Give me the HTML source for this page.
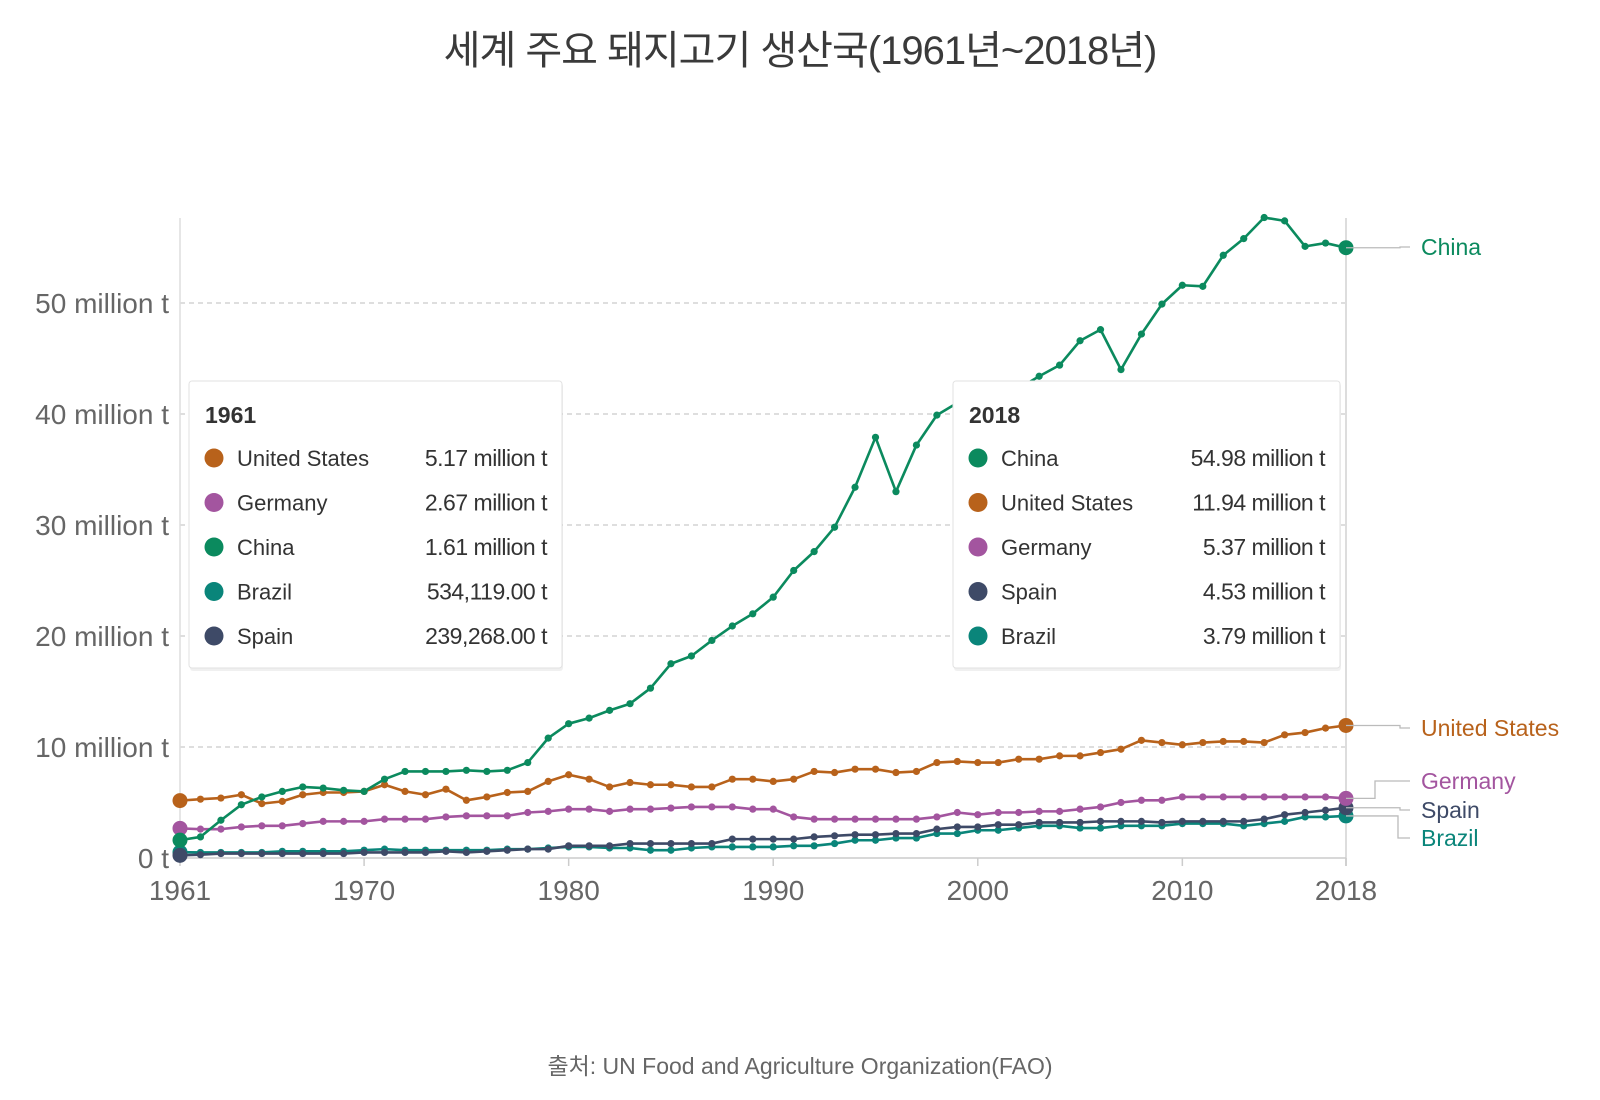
<!DOCTYPE html>
<html><head><meta charset="utf-8">
<style>
body{margin:0;background:#fff;}
svg{display:block;font-family:"Liberation Sans","Noto Sans CJK KR",sans-serif;}
</style></head>
<body>
<svg id="chart" width="1600" height="1100" viewBox="0 0 1600 1100">
<text x="800" y="64" text-anchor="middle" font-size="40" fill="#3a3a3a" letter-spacing="-1">세계 주요 돼지고기 생산국(1961년~2018년)</text>
<text x="800" y="1074" text-anchor="middle" font-size="23" fill="#666" letter-spacing="0">출처: UN Food and Agriculture Organization(FAO)</text>
<g id="grid"></g><g id="axes"></g><g id="series"></g><g id="labels"></g><g id="tips"></g>
</svg>
<script>
const years = [];
for (let y = 1961; y <= 2018; y++) years.push(y);
const seriesNames = ["China","United States","Germany","Spain","Brazil"];
const china = [1.61,1.9,3.4,4.8,5.5,6.0,6.4,6.3,6.1,6.0,7.1,7.8,7.8,7.8,7.9,7.8,7.9,8.6,10.8,12.1,12.6,13.3,13.9,15.3,17.5,18.2,19.6,20.9,22.0,23.5,25.9,27.6,29.8,33.4,37.9,33.0,37.2,39.9,41.0,41.2,41.8,42.3,43.4,44.4,46.6,47.6,44.0,47.2,49.9,51.6,51.5,54.3,55.8,57.7,57.4,55.1,55.4,54.98];
const usa = [5.17,5.3,5.4,5.7,4.9,5.1,5.7,5.9,5.9,6.0,6.6,6.0,5.7,6.2,5.2,5.5,5.9,6.0,6.9,7.5,7.1,6.4,6.8,6.6,6.6,6.4,6.4,7.1,7.1,6.9,7.1,7.8,7.7,8.0,8.0,7.7,7.8,8.6,8.7,8.6,8.6,8.9,8.9,9.2,9.2,9.5,9.8,10.6,10.4,10.2,10.4,10.5,10.5,10.4,11.1,11.3,11.7,11.94];
const germany = [2.67,2.6,2.6,2.8,2.9,2.9,3.1,3.3,3.3,3.3,3.5,3.5,3.5,3.7,3.8,3.8,3.8,4.1,4.2,4.4,4.4,4.2,4.4,4.4,4.5,4.6,4.6,4.6,4.4,4.4,3.7,3.5,3.5,3.5,3.5,3.5,3.5,3.7,4.1,3.9,4.1,4.1,4.2,4.2,4.4,4.6,5.0,5.2,5.2,5.5,5.5,5.5,5.5,5.5,5.5,5.5,5.5,5.37];
const spain = [0.24,0.3,0.4,0.4,0.4,0.4,0.4,0.4,0.4,0.5,0.5,0.5,0.5,0.6,0.5,0.6,0.7,0.8,0.8,1.1,1.1,1.1,1.3,1.3,1.3,1.3,1.3,1.7,1.7,1.7,1.7,1.9,2.0,2.1,2.1,2.2,2.2,2.6,2.8,2.8,3.0,3.0,3.2,3.2,3.2,3.3,3.3,3.3,3.2,3.3,3.3,3.3,3.3,3.5,3.9,4.1,4.3,4.53];
const brazil = [0.53,0.5,0.5,0.5,0.5,0.6,0.6,0.6,0.6,0.7,0.8,0.7,0.7,0.7,0.7,0.7,0.8,0.8,0.9,1.0,1.0,0.9,0.9,0.7,0.7,0.9,1.0,1.0,1.0,1.0,1.1,1.1,1.3,1.6,1.6,1.8,1.8,2.2,2.2,2.5,2.5,2.7,2.9,2.9,2.7,2.7,2.9,2.9,2.9,3.1,3.1,3.1,2.9,3.1,3.3,3.7,3.7,3.79];
const yTicks = [0,10,20,30,40,50];
const yTickLabels = ["0 t","10 million t","20 million t","30 million t","40 million t","50 million t"];
const xTicks = [1961,1970,1980,1990,2000,2010,2018];
const tip1961Names = ["United States","Germany","China","Brazil","Spain"];
const tip1961Values = ["5.17 million t","2.67 million t","1.61 million t","534,119.00 t","239,268.00 t"];
const tip2018Names = ["China","United States","Germany","Spain","Brazil"];
const tip2018Values = ["54.98 million t","11.94 million t","5.37 million t","4.53 million t","3.79 million t"];

const colors = {"China":"#0b8a5e","United States":"#b8621b","Germany":"#a3559f","Spain":"#3e4a67","Brazil":"#0a857a"};
const dataBy = {"China":china,"United States":usa,"Germany":germany,"Spain":spain,"Brazil":brazil};
const X0=180, X1=1346, Y0=858, YPER=11.1;
const x = yr => X0 + (yr-1961)*(X1-X0)/(2018-1961);
const y = v => Y0 - v*YPER;
const NS="http://www.w3.org/2000/svg";
function mk(tag, attrs, parent){const e=document.createElementNS(NS,tag);for(const k in attrs)e.setAttribute(k,attrs[k]);parent.appendChild(e);return e;}

const grid=document.getElementById('grid'), axes=document.getElementById('axes');
yTicks.forEach((t,i)=>{
  if(t>0){const g=mk('line',{x1:X0,x2:X1,y1:y(t),y2:y(t),stroke:'#d4d4d4','stroke-width':1.5,'stroke-dasharray':'5,4'},grid);
  
  }
  const tl=mk('text',{x:169,y:y(t)+10,'text-anchor':'end','font-size':28,fill:'#666'},axes);
  tl.textContent=yTickLabels[i];
  
  
});
let a=mk('line',{x1:X0,x2:X0,y1:218,y2:Y0,stroke:'#ddd','stroke-width':1.5},axes);


a=mk('line',{x1:X1,x2:X1,y1:218,y2:Y0+8,stroke:'#ddd','stroke-width':2},axes);


a=mk('line',{x1:X0,x2:X1,y1:Y0,y2:Y0,stroke:'#ccc','stroke-width':1.5},axes);


xTicks.forEach(t=>{
  const tk=mk('line',{x1:x(t),x2:x(t),y1:Y0,y2:Y0+8,stroke:'#ccc','stroke-width':1.5},axes);
  
  
  const tl=mk('text',{x:x(t),y:900,'text-anchor':'middle','font-size':28,fill:'#666'},axes);
  tl.textContent=t;
  
  
});

const series=document.getElementById('series');
["Brazil","Spain","Germany","United States","China"].forEach(n=>{
  const d=dataBy[n], c=colors[n];
  const g=mk('g',{},series);
  
  
  mk('polyline',{points:d.map((v,i)=>x(years[i])+','+y(v)).join(' '),fill:'none',stroke:c,'stroke-width':2.6,'stroke-linejoin':'round'},g);
  d.forEach((v,i)=>{
    const big=(i===0||i===d.length-1);
    const p=mk('circle',{cx:x(years[i]),cy:y(v),r:big?7.5:3.6,fill:c},g);
    
    
  });
});

const labels=document.getElementById('labels');
const labelY={"China":247,"United States":728,"Germany":781,"Spain":810,"Brazil":838};
seriesNames.forEach(n=>{
  const d=dataBy[n], py=y(d[d.length-1]), ly=labelY[n];
  const mid = n==="Germany"?1375:(n==="Brazil"?1398:1400);
  const l=mk('polyline',{points:`${X1},${py} ${mid},${py} ${mid},${ly} 1410,${ly}`,fill:'none',stroke:'#bbb','stroke-width':1.3},labels);
  
  
  const t=mk('text',{x:1421,y:ly+8,'font-size':23,fill:colors[n]},labels);
  t.textContent=n;
  
  
});

const tips=document.getElementById('tips');
function tooltip(x0,w,title,names,vals,name){
  const g=mk('g',{},tips);
  
  
  mk('rect',{x:x0+1,y:383,width:w,height:288,rx:3,fill:'#000',opacity:0.06},g);
  mk('rect',{x:x0,y:381,width:w,height:287,rx:3,fill:'#fff',stroke:'#e2e2e2','stroke-width':1},g);
  const h=mk('text',{x:x0+16,y:423,'font-size':23,'font-weight':'bold',fill:'#333'},g);
  h.textContent=title;
  names.forEach((n,i)=>{
    const ry=458+i*44.5;
    mk('circle',{cx:x0+25,cy:ry,r:9.5,fill:colors[n]},g);
    const t=mk('text',{x:x0+48,y:ry+8,'font-size':22,fill:'#333'},g);
    t.textContent=n;
    const v=mk('text',{x:x0+w-15,y:ry+8,'font-size':23,fill:'#333','text-anchor':'end','letter-spacing':'-0.5'},g);
    v.textContent=vals[i];
  });
}
tooltip(189,373,"1961",tip1961Names,tip1961Values,'tooltip-1961');
tooltip(953,387,"2018",tip2018Names,tip2018Values,'tooltip-2018');
</script>
</body></html>
